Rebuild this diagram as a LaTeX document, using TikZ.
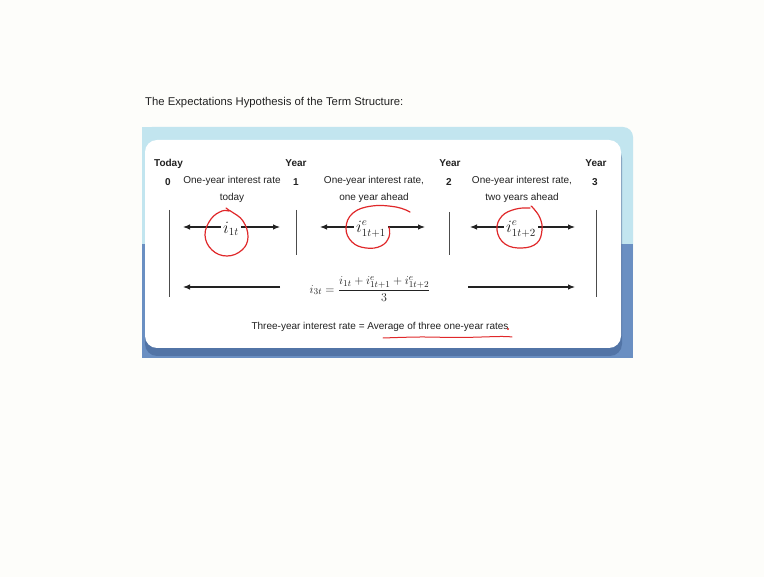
\documentclass[tikz,border=0pt]{standalone}
\usepackage{fontspec}
\setmainfont{Liberation Sans}
\usetikzlibrary{arrows.meta}
\definecolor{pagebg}{HTML}{FDFDFA}
\definecolor{lightblue}{HTML}{C2E5EF}
\definecolor{darkblue}{HTML}{6A8FC2}
\definecolor{shadowblue}{HTML}{3F5F8F}
\definecolor{annot}{HTML}{E0282A}
\definecolor{textc}{HTML}{222222}
\begin{document}
\begin{tikzpicture}[x=1pt,y=-1pt,
  lbl/.style={font=\fontsize{10}{17}\selectfont, inner sep=0pt, text=textc, align=center},
  hdr/.style={font=\bfseries\fontsize{10}{12}\selectfont, inner sep=0pt, text=textc, anchor=base},
  bar/.style={draw=gray!60!black, line width=1pt},
  arr/.style={-{Latex[length=7pt,width=5.5pt]}, line width=1.1pt, draw=textc},
  mathlbl/.style={inner sep=2pt, font=\fontsize{16}{18}\selectfont, text=textc},
  redmark/.style={draw=annot, line width=1.2pt, line cap=round, line join=round}]
\fill[pagebg] (0,0) rectangle (764,577);
\useasboundingbox (0,0) rectangle (764,577);
% title
\node[anchor=west, inner sep=0pt, text=textc, font=\fontsize{11.3}{13}\selectfont] (title) at (145,103) {The Expectations Hypothesis of the Term Structure:};
% panel
\fill[lightblue, rounded corners=10pt] (142,127) rectangle (633,270);
\fill[lightblue] (142,127) rectangle (170,270);
\fill[darkblue] (142,244) rectangle (633,358);
\fill[shadowblue, opacity=0.55, rounded corners=12pt] (145,146) rectangle (622,356);
\fill[white, rounded corners=12pt] (145,140) rectangle (621,348);
% headers
\node[hdr] (today) at (168.5,167) {Today};
\node[hdr] (y1) at (296,167) {Year};
\node[hdr] (y2) at (450,167) {Year};
\node[hdr] (y3) at (596,167) {Year};
\node[hdr] (n0) at (168,186) {0};
\node[hdr] (n1) at (296,186) {1};
\node[hdr] (n2) at (449,186) {2};
\node[hdr] (n3) at (595,186) {3};
\node[lbl, anchor=north] (d1) at (232,176) {One-year interest rate\\today};
\node[lbl, anchor=north] (d2) at (374,176) {One-year interest rate,\\one year ahead};
\node[lbl, anchor=north] (d3) at (522,176) {One-year interest rate,\\two years ahead};
% bars
\coordinate (b0t) at (169,210); \coordinate (b0b) at (169,297);
\coordinate (b1t) at (296,210); \coordinate (b1b) at (296,255);
\coordinate (b2t) at (449,212); \coordinate (b2b) at (449,255);
\coordinate (b3t) at (596,210); \coordinate (b3b) at (596,297);
\draw[bar] (b0t) -- (b0b);
\draw[bar] (b1t) -- (b1b);
\draw[bar] (b2t) -- (b2b);
\draw[bar] (b3t) -- (b3b);
% row 1
\node[mathlbl] (r1) at (231,229) {$i_{1t}$};
\node[mathlbl] (r2) at (371,229) {$i^e_{1t+1}$};
\node[mathlbl] (r3) at (521,229) {$i^e_{1t+2}$};
\coordinate (r1l) at (183,227); \coordinate (r1r) at (280,227);
\coordinate (r2l) at (320,227); \coordinate (r2r) at (425,227);
\coordinate (r3l) at (470,227); \coordinate (r3r) at (575,227);
\draw[arr] (r1.west |- r1l) -- (r1l);
\draw[arr] (r1.east |- r1r) -- (r1r);
\draw[arr] (r2.west |- r2l) -- (r2l);
\draw[arr] (r2.east |- r2r) -- (r2r);
\draw[arr] (r3.west |- r3l) -- (r3l);
\draw[arr] (r3.east |- r3r) -- (r3r);
% row 2
\node[inner sep=0pt, text=textc, font=\fontsize{13}{15}\selectfont] (formula) at (370,289)
  {$\displaystyle i_{3t}=\frac{i_{1t}+i^e_{1t+1}+i^e_{1t+2}}{3}$};
\coordinate (f1a) at (280,287); \coordinate (f1b) at (183,287);
\coordinate (f2a) at (468,287); \coordinate (f2b) at (575,287);
\draw[arr] (f1a) -- (f1b);
\draw[arr] (f2a) -- (f2b);
% bottom statement
\node[lbl] (summary) at (380,327) {Three-year interest rate = Average of three one-year rates};
% red annotations
\draw[redmark] plot[smooth, tension=0.7] coordinates {(226,208) (229,211) (222,211) (211,219) (205,235) (212,250) (227,256) (242,250) (248,237) (243,221) (232,212) (228,210)};
\draw[redmark] plot[smooth, tension=0.7] coordinates {(410,212) (396,207) (372,206) (353,213) (346,228) (352,242) (366,248) (381,246) (389,237) (389,227)};
\draw[redmark] plot[smooth, tension=0.7] coordinates {(531,206) (534,209) (540,218) (542,230) (537,243) (522,248) (505,244) (497,230) (502,216) (516,209) (530,208)};
\draw[redmark, line width=1pt] plot[smooth, tension=0.6] coordinates {(383,338) (420,337) (460,337.5) (500,336.5) (512,337)};
\fill[annot] (508,329) circle (1.2);
\end{tikzpicture}
\end{document}
